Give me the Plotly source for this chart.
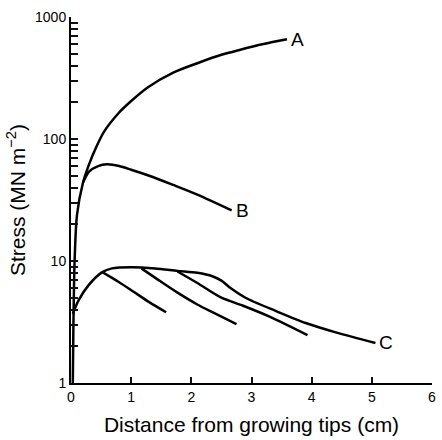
import math
import plotly.graph_objects as go

# Stress along hyphae vs distance from growing tips
dist_A = [0.03, 0.04, 0.06, 0.1, 0.2, 0.3, 0.42, 0.55, 0.8, 1.0, 1.28, 1.7, 2.1, 2.5, 2.8, 3.2, 3.59]
stress_A = [1.0, 3.0, 10, 24, 44, 62, 86, 115, 165, 205, 266, 350, 418, 490, 537, 600, 656]

dist_B = [0.2, 0.3, 0.45, 0.6, 0.8, 1.0, 1.3, 1.7, 2.1, 2.67]
stress_B = [44, 54, 60, 62, 60, 56, 50, 42, 35, 26]

dist_C = [0.03, 0.13, 0.3, 0.52, 0.68, 1.0, 1.4, 1.77, 2.1, 2.35, 2.5, 2.65, 2.9, 3.4, 3.9, 4.4, 5.06]
stress_C = [3.7, 4.8, 6.4, 8.1, 8.7, 8.9, 8.7, 8.3, 8.0, 7.5, 6.9, 6.0, 5.0, 3.9, 3.1, 2.6, 2.13]

# branches leaving curve C
dist_C1 = [0.52, 0.8, 1.04, 1.3, 1.58]
stress_C1 = [8.1, 6.7, 5.6, 4.6, 3.8]
dist_C2 = [1.17, 1.45, 1.77, 2.1, 2.4, 2.75]
stress_C2 = [8.7, 7.0, 5.5, 4.4, 3.7, 3.04]
dist_C3 = [1.77, 2.1, 2.5, 2.86, 3.3, 3.93]
stress_C3 = [8.2, 6.6, 5.0, 4.3, 3.5, 2.47]

curve_labels = ["A", "B", "C"]

x_ticks = [0, 1, 2, 3, 4, 5, 6]
y_ticks = [m * d for d in (1, 10, 100) for m in range(1, 10)] + [1000]
y_ticktext = [str(v) if v in (1, 10, 100, 1000) else "" for v in y_ticks]

FONT = "Liberation Sans, Arial, sans-serif"
INK = "#111111"

fig = go.Figure()
series = [
    (dist_A, stress_A), (dist_B, stress_B), (dist_C, stress_C),
    (dist_C1, stress_C1), (dist_C2, stress_C2), (dist_C3, stress_C3),
]
for xs, ys in series:
    fig.add_trace(go.Scatter(
        x=xs, y=ys, mode="lines",
        line=dict(color="black", width=2.5, shape="spline", smoothing=0.8),
        showlegend=False, hoverinfo="skip",
    ))

ends = [(dist_A[-1], stress_A[-1]), (dist_B[-1], stress_B[-1]), (dist_C[-1], stress_C[-1])]
for lab, (ex, ey) in zip(curve_labels, ends):
    fig.add_annotation(
        x=ex, y=math.log10(ey), xref="x", yref="y", text=lab, showarrow=False,
        xanchor="left", yanchor="middle", xshift=2,
        font=dict(family=FONT, size=19, color="black"),
    )

fig.update_layout(
    width=442, height=440,
    margin=dict(l=71, r=6, t=17, b=57),
    paper_bgcolor="white", plot_bgcolor="white",
    font=dict(family=FONT, color="black", size=14),
    xaxis=dict(
        range=[0, 6], tickmode="array", tickvals=x_ticks, ticktext=[str(v) for v in x_ticks],
        ticks="inside", ticklen=6, tickwidth=2, tickcolor=INK,
        showline=True, linecolor="black", linewidth=2,
        showgrid=False, zeroline=False,
        tickfont=dict(size=14),
        title=dict(text="Distance from growing tips (cm)", font=dict(size=21), standoff=14),
    ),
    yaxis=dict(
        type="log", range=[0, 3], tickmode="array", tickvals=y_ticks,
        ticktext=y_ticktext,
        ticks="inside", ticklen=7, tickwidth=2, tickcolor=INK,
        showline=True, linecolor="black", linewidth=2,
        showgrid=False, zeroline=False,
        tickfont=dict(size=14),
        title=dict(text="Stress (MN m<sup>\u22122</sup>)", font=dict(size=21), standoff=4),
    ),
)

fig.write_html("out.html")
